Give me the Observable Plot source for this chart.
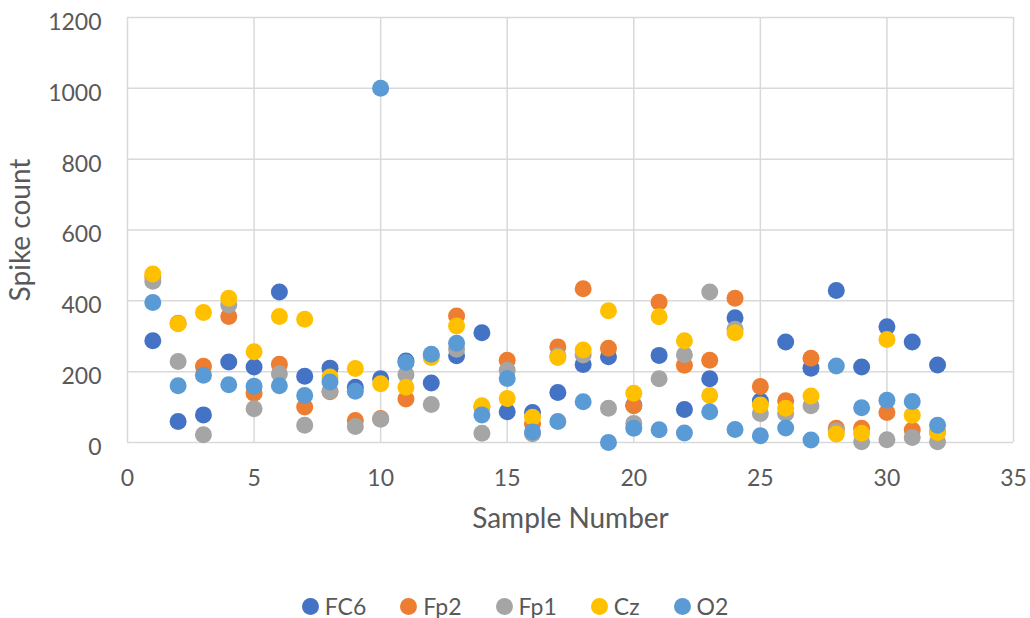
<!DOCTYPE html>
<html>
<head>
<meta charset="utf-8">
<script src="https://cdn.jsdelivr.net/npm/d3@7"></script>
<script src="https://cdn.jsdelivr.net/npm/@observablehq/plot@0.6"></script>
<style>
  html, body { margin: 0; padding: 0; background: #fff; }
  #chart { width: 1030px; height: 618px; position: relative; font-family: Lato, "Open Sans", sans-serif; }
  .legend { display: flex; justify-content: center; align-items: center; gap: 34px; height: 24px; padding-top: 14px; font-size: 23px; color: #595959; }
  .legend .item { display: flex; align-items: center; gap: 6px; }
  .legend .sw { width: 17px; height: 17px; border-radius: 50%; display: inline-block; }
</style>
</head>
<body>
<div id="chart"></div>
<script>
// Spike counts per EEG channel for each of 32 samples
const samples = [1, 2, 3, 4, 5, 6, 7, 8, 9, 10, 11, 12, 13, 14, 15, 16, 17, 18, 19, 20, 21, 22, 23, 24, 25, 26, 27, 28, 29, 30, 31, 32];
const FC6 = [287, 59, 78, 227, 213, 425, 187, 210, 156, 180, 230, 168, 245, 310, 87, 85, 141, 220, 242, 105, 246, 93, 180, 352, 117, 284, 210, 429, 213, 327, 284, 219];
const Fp2 = [468, 337, 215, 356, 139, 221, 100, 143, 62, 68, 123, 245, 357, 100, 232, 52, 270, 434, 266, 104, 396, 218, 232, 407, 158, 118, 238, 40, 40, 85, 35, 30];
const Fp1 = [455, 229, 22, 388, 95, 194, 49, 145, 45, 66, 192, 107, 263, 26, 204, 25, 245, 247, 97, 54, 180, 248, 425, 320, 82, 82, 104, 33, 2, 8, 14, 2];
const Cz  = [476, 335, 367, 407, 256, 356, 348, 185, 209, 166, 156, 240, 329, 104, 124, 71, 240, 261, 372, 139, 355, 287, 133, 310, 106, 97, 131, 24, 26, 291, 77, 28];
const O2  = [395, 160, 190, 163, 159, 160, 133, 171, 145, 1000, 226, 249, 280, 78, 181, 30, 59, 115, 0, 40, 36, 27, 87, 37, 19, 41, 7, 216, 98, 119, 116, 49];

const seriesNames = ["FC6", "Fp2", "Fp1", "Cz", "O2"];
const seriesValues = [FC6, Fp2, Fp1, Cz, O2];
const seriesColors = ["#4472C4", "#ED7D31", "#A5A5A5", "#FFC000", "#5B9BD5"];

const xTicks = [0, 5, 10, 15, 20, 25, 30, 35];
const yTicks = [0, 200, 400, 600, 800, 1000, 1200];

// Long-format rows; later series are drawn on top of earlier ones
const rows = [];
seriesNames.forEach((name, i) => {
  samples.forEach((s, j) => rows.push({ sample: s, count: seriesValues[i][j], series: name }));
});

const gridStyle = { stroke: "#d9d9d9", strokeOpacity: 1, strokeWidth: 1.5 };

const chart = Plot.plot({
  width: 1030,
  height: 580,
  marginLeft: 127,
  marginRight: 17,
  marginTop: 17,
  marginBottom: 138,
  style: { fontFamily: "Lato, 'Open Sans', sans-serif", fontSize: "23px", color: "#595959", background: "#fff" },
  x: { domain: [0, 35] },
  y: { domain: [0, 1200] },
  color: { domain: seriesNames, range: seriesColors },
  marks: [
    Plot.gridX(xTicks, gridStyle),
    Plot.gridY(yTicks, gridStyle),
    Plot.dot(rows, { x: "sample", y: "count", fill: "series", r: 8.5, stroke: "none" }),
    Plot.axisX(xTicks, {
      tickSize: 0, tickPadding: 27, fontSize: 23, tickFormat: "d",
      label: "Sample Number", labelAnchor: "center", labelOffset: 85, labelArrow: "none"
    }),
    Plot.axisY(yTicks, {
      tickSize: 0, tickPadding: 26, fontSize: 23, tickFormat: "d", dy: 5,
      label: "Spike count", labelAnchor: "center", labelOffset: 117, labelArrow: "none"
    })
  ]
});

// Larger type for the axis titles
chart.querySelectorAll("g[aria-label='x-axis label'] text, g[aria-label='y-axis label'] text").forEach(t => {
  t.setAttribute("font-size", "28");
});

const root = document.getElementById("chart");
root.appendChild(chart);

// Legend below the plot
const legend = document.createElement("div");
legend.className = "legend";
seriesNames.forEach((name, i) => {
  const item = document.createElement("span");
  item.className = "item";
  const sw = document.createElement("span");
  sw.className = "sw";
  sw.style.background = seriesColors[i];
  const label = document.createElement("span");
  label.textContent = name;
  item.appendChild(sw);
  item.appendChild(label);
  legend.appendChild(item);
});
root.appendChild(legend);
</script>
</body>
</html>
